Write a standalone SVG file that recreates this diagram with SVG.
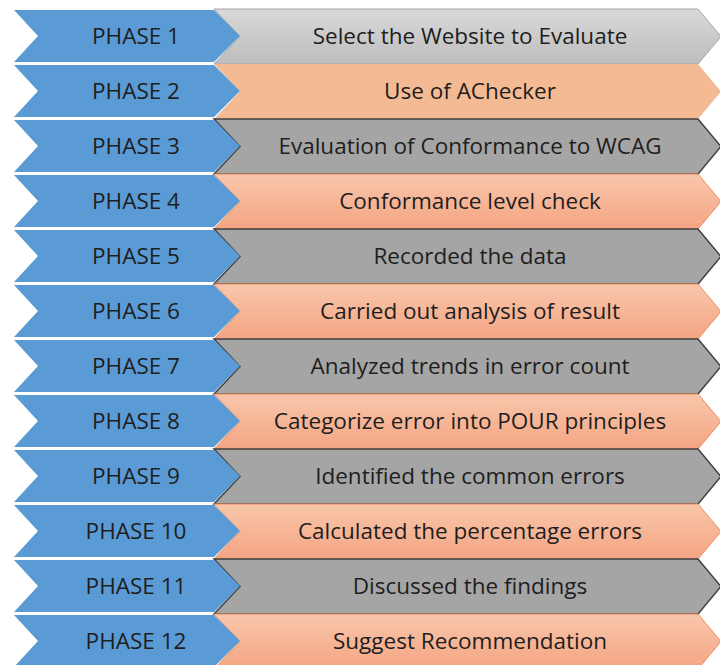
<svg xmlns="http://www.w3.org/2000/svg" width="720" height="665" viewBox="0 0 720 665">
<defs>
<linearGradient id="gLight" x1="0" y1="0" x2="0" y2="1"><stop offset="0" stop-color="#D9D9D9"/><stop offset="1" stop-color="#BDBDBD"/></linearGradient>
<linearGradient id="gOrange" x1="0" y1="0" x2="0" y2="1"><stop offset="0" stop-color="#F9C6AB"/><stop offset="1" stop-color="#F4A583"/></linearGradient>
<style>
.blue{fill:#5B9BD5;}
.light{fill:url(#gLight);stroke:#A6A6A6;stroke-width:1;}
.flat{fill:#F4BA94;}
.dark{fill:#A5A5A5;stroke:#404040;stroke-width:1.5;}
.orange{fill:url(#gOrange);stroke:#EE8D5C;stroke-width:1;}
text{font-family:"Open Sans","Liberation Sans",sans-serif;font-size:22.5px;fill:#1E1E1E;text-anchor:middle;}
</style>
</defs>
<g id="connectors"/>
<g id="steps">
<polygon class="light" points="214,9 698,9 721,36.5 698,64 214,64 240,36.5"/>
<polygon class="flat" points="214,64 698,64 721,91.5 698,119 214,119 240,91.5"/>
<polygon class="dark" points="214,119 698,119 721,146.5 698,174 214,174 240,146.5"/>
<polygon class="orange" points="214,174 698,174 721,201.5 698,229 214,229 240,201.5"/>
<polygon class="dark" points="214,229 698,229 721,256.5 698,284 214,284 240,256.5"/>
<polygon class="orange" points="214,284 698,284 721,311.5 698,339 214,339 240,311.5"/>
<polygon class="dark" points="214,339 698,339 721,366.5 698,394 214,394 240,366.5"/>
<polygon class="orange" points="214,394 698,394 721,421.5 698,449 214,449 240,421.5"/>
<polygon class="dark" points="214,449 698,449 721,476.5 698,504 214,504 240,476.5"/>
<polygon class="orange" points="214,504 698,504 721,531.5 698,559 214,559 240,531.5"/>
<polygon class="dark" points="214,559 698,559 721,586.5 698,614 214,614 240,586.5"/>
<polygon class="orange" points="214,614 698,614 721,641.5 698,669 214,669 240,641.5"/>
</g>
<g id="phase1"><polygon class="blue" points="14,10 214,10 240,36 214,62 14,62 38,36"/><text x="136" y="44">PHASE 1</text><text x="470" y="44">Select the Website to Evaluate</text></g>
<g id="phase2"><polygon class="blue" points="14,65 214,65 240,91 214,117 14,117 38,91"/><text x="136" y="99">PHASE 2</text><text x="470" y="99">Use of AChecker</text></g>
<g id="phase3"><polygon class="blue" points="14,120 214,120 240,146 214,172 14,172 38,146"/><text x="136" y="154">PHASE 3</text><text x="470" y="154">Evaluation of Conformance to WCAG</text></g>
<g id="phase4"><polygon class="blue" points="14,175 214,175 240,201 214,227 14,227 38,201"/><text x="136" y="209">PHASE 4</text><text x="470" y="209">Conformance level check</text></g>
<g id="phase5"><polygon class="blue" points="14,230 214,230 240,256 214,282 14,282 38,256"/><text x="136" y="264">PHASE 5</text><text x="470" y="264">Recorded the data</text></g>
<g id="phase6"><polygon class="blue" points="14,285 214,285 240,311 214,337 14,337 38,311"/><text x="136" y="319">PHASE 6</text><text x="470" y="319">Carried out analysis of result</text></g>
<g id="phase7"><polygon class="blue" points="14,340 214,340 240,366 214,392 14,392 38,366"/><text x="136" y="374">PHASE 7</text><text x="470" y="374">Analyzed trends in error count</text></g>
<g id="phase8"><polygon class="blue" points="14,395 214,395 240,421 214,447 14,447 38,421"/><text x="136" y="429">PHASE 8</text><text x="470" y="429">Categorize error into POUR principles</text></g>
<g id="phase9"><polygon class="blue" points="14,450 214,450 240,476 214,502 14,502 38,476"/><text x="136" y="484">PHASE 9</text><text x="470" y="484">Identified the common errors</text></g>
<g id="phase10"><polygon class="blue" points="14,505 214,505 240,531 214,557 14,557 38,531"/><text x="136" y="539">PHASE 10</text><text x="470" y="539">Calculated the percentage errors</text></g>
<g id="phase11"><polygon class="blue" points="14,560 214,560 240,586 214,612 14,612 38,586"/><text x="136" y="594">PHASE 11</text><text x="470" y="594">Discussed the findings</text></g>
<g id="phase12"><polygon class="blue" points="14,615 214,615 240,641 214,667 14,667 38,641"/><text x="136" y="649">PHASE 12</text><text x="470" y="649">Suggest Recommendation</text></g>
</svg>
